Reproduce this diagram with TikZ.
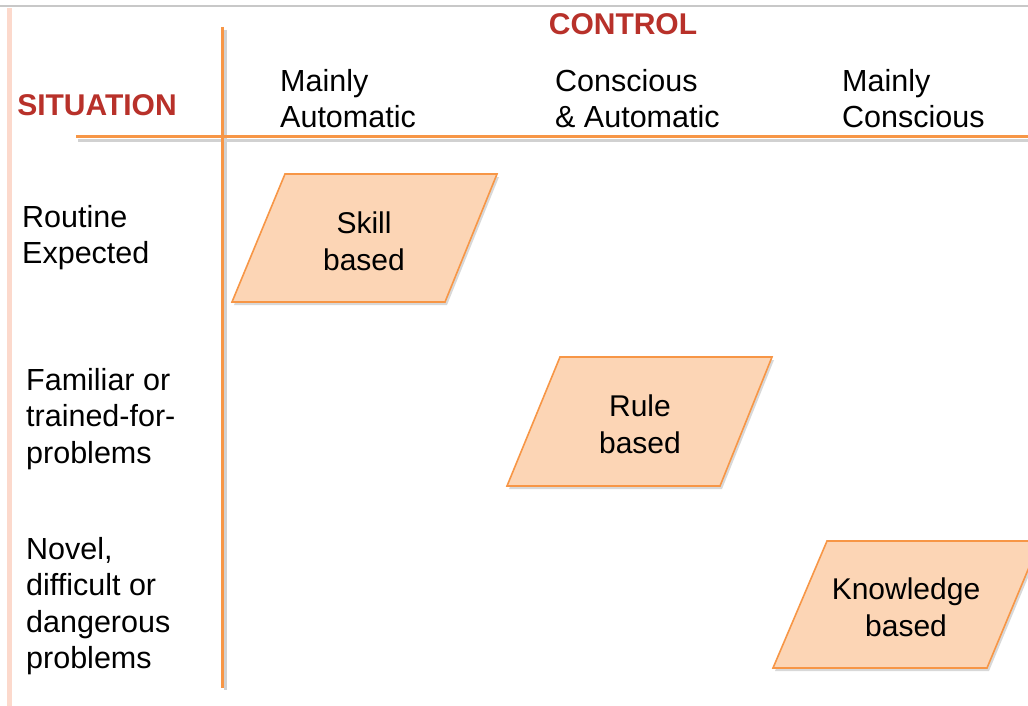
\documentclass[tikz,border=0pt]{standalone}
\usepackage{fontspec}
\setmainfont{Liberation Sans}
\usetikzlibrary{shadows}
\definecolor{orng}{HTML}{F79646}
\definecolor{fillp}{HTML}{FCD5B5}
\definecolor{darkred}{HTML}{B8312A}
\definecolor{pinkstrip}{HTML}{FCD9CC}
\definecolor{topgray}{HTML}{C8C8C8}
\tikzset{
  axis/.style={draw=orng, line width=3pt},
  axshadow/.style={draw=black!18, line width=3pt},
  para/.style={draw=orng, fill=fillp, line width=1.6pt, drop shadow={shadow xshift=2pt, shadow yshift=-3pt, fill=black!25, opacity=0.6}},
  title/.style={font=\fontsize{30}{36}\selectfont\bfseries, text=darkred, inner sep=0pt},
  lbl/.style={font=\fontsize{30.5}{36.5}\selectfont, align=left, inner sep=0pt, anchor=north west},
  ptxt/.style={font=\fontsize{30}{37}\selectfont, align=center, inner sep=0pt}
}
\begin{document}
\begin{tikzpicture}[x=1pt,y=-1pt]
\useasboundingbox (0,0) rectangle (1028,706);
\clip (0,0) rectangle (1028,706);
\fill[white] (0,0) rectangle (1028,706);
% top gray line and left strip
\draw[topgray, line width=2pt] (0,6) -- (1028,6);
\fill[pinkstrip] (7,8) rectangle (12,706);
% axes shadows
\draw[axshadow] (78,140.5) -- (1028,140.5);
\draw[axshadow] (225,30) -- (225,690);
% axes
\draw[axis] (76,137) -- (1028,137);
\draw[axis] (222,27) -- (222,688);
% titles
\node[title] (situation) at (97,105) {SITUATION};
\node[title] (control) at (623,24) {CONTROL};
% column headers
\node[lbl] (c1) at (280,69) {Mainly\\Automatic};
\node[lbl] (c2) at (555,69) {Conscious\\\& Automatic};
\node[lbl] (c3) at (842,69) {Mainly\\Conscious};
% row labels
\node[lbl] (r1) at (22,205) {Routine\\Expected};
\node[lbl] (r2) at (26,368) {Familiar or\\trained-for-\\problems};
\node[lbl] (r3) at (26,537) {Novel,\\difficult or\\dangerous\\problems};
% parallelograms
\path[para] (285,174) -- (497,174) -- (445,302) -- (232,302) -- cycle;
\path[para] (560,357) -- (772,357) -- (720,486) -- (507,486) -- cycle;
\path[para] (827,541) -- (1040,541) -- (987,668) -- (773,668) -- cycle;
\node[ptxt] (skill) at (364,241) {Skill\\based};
\node[ptxt] (rule) at (640,424) {Rule\\based};
\node[ptxt] (know) at (906,607) {Knowledge\\based};
\end{tikzpicture}
\end{document}
